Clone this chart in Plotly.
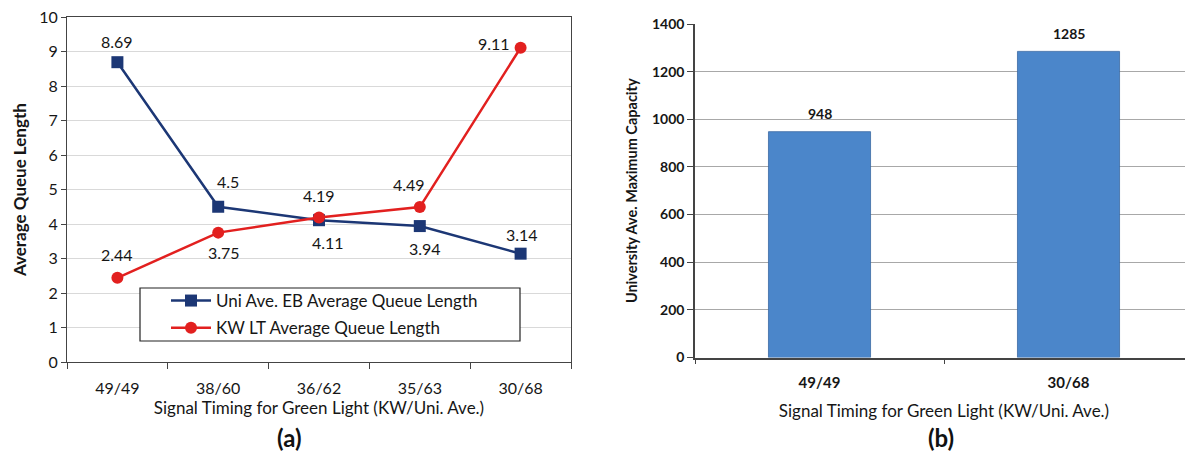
import plotly.graph_objects as go

# ---- data ----
timings = ["49/49", "38/60", "36/62", "35/63", "30/68"]
uni_eb_queue = [8.69, 4.5, 4.11, 3.94, 3.14]
kw_lt_queue = [2.44, 3.75, 4.19, 4.49, 9.11]
bar_timings = ["49/49", "30/68"]
uni_max_capacity = [948, 1285]

# ---- styles / geometry ----
BLUE = "#1c3775"
RED = "#e2201f"
BAR = "#4b86ca"
FONT = "Lato"
TXT = "#161616"
OFF = 8            # page body margin in the browser
W, H = 1193 - OFF, 453 - OFF


def fx(px):
    return (px - OFF) / W


def fy(py):
    return 1 - (py - OFF) / H


fig = go.Figure()

fig.add_trace(go.Scatter(
    x=timings, y=uni_eb_queue, mode="lines+markers",
    name="Uni Ave. EB Average Queue Length", legendgroup="a",
    line=dict(color=BLUE, width=2.5),
    marker=dict(symbol="square", size=12, color=BLUE),
    xaxis="x", yaxis="y",
))
fig.add_trace(go.Scatter(
    x=timings, y=kw_lt_queue, mode="lines+markers",
    name="KW LT Average Queue Length", legendgroup="b",
    line=dict(color=RED, width=2.5),
    marker=dict(symbol="circle", size=12, color=RED),
    xaxis="x", yaxis="y",
))
fig.add_trace(go.Bar(
    x=bar_timings, y=uni_max_capacity, width=0.41,
    marker=dict(color=BAR, line=dict(color="#3b6aa3", width=0.8)),
    showlegend=False, xaxis="x2", yaxis="y2",
))

annotations = []
# data labels for line chart (pixel shifts per point)
uni_shift = [(0, 21), (10, 25), (9, -22), (5, -22), (1, 19)]
kw_shift = [(0, 23), (6, -20), (0, 22), (-11, 23), (-27, 4)]
for series, shifts in ((uni_eb_queue, uni_shift), (kw_lt_queue, kw_shift)):
    for cat, val, (dx, dy) in zip(timings, series, shifts):
        annotations.append(dict(
            x=cat, y=val, xref="x", yref="y", text=f"{val:g}",
            showarrow=False, xshift=dx, yshift=dy,
            font=dict(family=FONT, size=16, color=TXT),
        ))
for cat, val in zip(bar_timings, uni_max_capacity):
    annotations.append(dict(
        x=cat, y=val, xref="x2", yref="y2", text=str(val),
        showarrow=False, yshift=18,
        font=dict(family=FONT, size=14, color=TXT, weight="bold"),
    ))
annotations.append(dict(x=fx(19), y=fy(190), xref="paper", yref="paper",
                        xanchor="center", yanchor="middle", textangle=-90,
                        text="<b>Average Queue Length</b>", showarrow=False,
                        font=dict(family=FONT, size=17, color=TXT)))
annotations.append(dict(x=fx(289), y=fy(437), xref="paper", yref="paper",
                        xanchor="center", yanchor="middle",
                        text="<b>(a)</b>", showarrow=False,
                        font=dict(family=FONT, size=24, color="#111111")))
annotations.append(dict(x=fx(941), y=fy(437), xref="paper", yref="paper",
                        xanchor="center", yanchor="middle",
                        text="<b>(b)</b>", showarrow=False,
                        font=dict(family=FONT, size=24, color="#111111")))

fig.update_layout(
    width=W, height=H,
    margin=dict(l=0, r=0, t=0, b=0),
    paper_bgcolor="white", plot_bgcolor="white",
    font=dict(family=FONT, size=16, color=TXT),
    annotations=annotations,
    shapes=[dict(type="rect", xref="paper", yref="paper",
                 x0=fx(140), x1=fx(520), y0=fy(341), y1=fy(288),
                 line=dict(color="#222222", width=1.2), fillcolor="white", layer="above")],
    legend=dict(x=fx(166), y=fy(283), xanchor="left", yanchor="top",
                bgcolor="rgba(0,0,0,0)", borderwidth=0, itemwidth=40,
                font=dict(family=FONT, size=17, color=TXT),
                tracegroupgap=2),
    xaxis=dict(domain=[fx(67), fx(571)], anchor="y", type="category", automargin=False,
               range=[-0.5, 4.5], tickson="boundaries", ticks="outside", ticklen=6,
               tickcolor="#444444", showline=True, linecolor="#444444", linewidth=1.2,
               mirror=True, showgrid=False, ticklabelstandoff=12,
               tickfont=dict(family=FONT, size=16),
               title=dict(text="Signal Timing for Green Light (KW/Uni. Ave.)",
                          font=dict(family=FONT, size=17), standoff=0)),
    yaxis=dict(domain=[fy(362), fy(17)], anchor="x", range=[0, 10], dtick=1,
               automargin=False, ticklabeloverflow="allow",
               ticks="outside", ticklen=5, tickcolor="#444444",
               showline=True, linecolor="#444444", linewidth=1.2, mirror=True,
               gridcolor="#d9d9d9", gridwidth=1.2, zeroline=False,
               tickfont=dict(family=FONT, size=16)),
    xaxis2=dict(domain=[fx(695), 1.0], anchor="y2", type="category", automargin=False,
                range=[-0.5, 1.5], tickson="boundaries", ticks="outside", ticklen=5,
                tickcolor="#444444", showline=True, linecolor="#444444", linewidth=1.5,
                showgrid=False, ticklabelstandoff=11,
                tickfont=dict(family=FONT, size=15, weight="bold"),
                title=dict(text="Signal Timing for Green Light (KW/Uni. Ave.)",
                           font=dict(family=FONT, size=17), standoff=15)),
    yaxis2=dict(domain=[fy(357.5), fy(24)], anchor="x2", range=[0, 1400], dtick=200,
                automargin=False, ticklabeloverflow="allow",
                ticks="outside", ticklen=6, tickcolor="#444444",
                showline=True, linecolor="#444444", linewidth=1.5, mirror=True,
                gridcolor="#a8a8a8", gridwidth=1, zeroline=False,
                tickfont=dict(family=FONT, size=14, weight="bold"),
                title=dict(text="<b>University Ave. Maximum Capacity</b>",
                           font=dict(family=FONT, size=14.5), standoff=11)),
)

fig.write_html("out.html")
